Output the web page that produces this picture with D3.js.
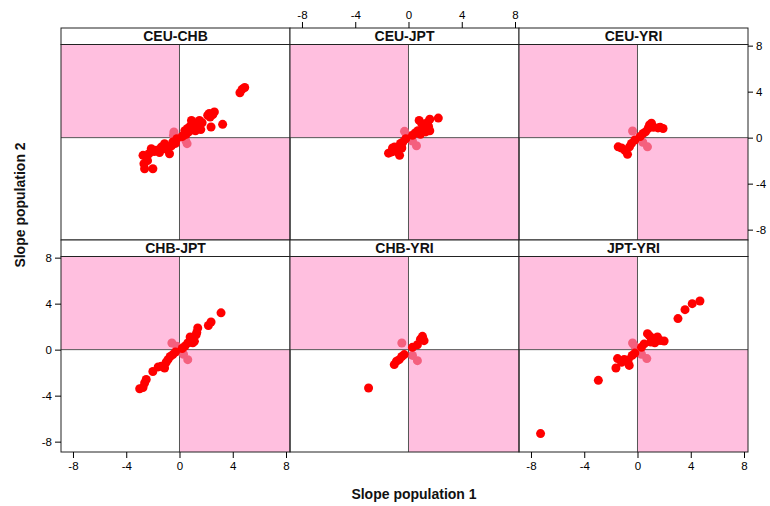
<!DOCTYPE html>
<html>
<head>
<meta charset="utf-8">
<script src="https://cdn.jsdelivr.net/npm/d3@7"></script>
<style>
  body { margin: 0; background: #fff; }
  svg { display: block; }
  text { font-family: "Liberation Sans", Arial, sans-serif; }
</style>
</head>
<body>
<svg id="chart" width="770" height="506"></svg>
<script>
// ---------------- DATA ----------------
const panelNames = ["CEU-CHB", "CEU-JPT", "CEU-YRI", "CHB-JPT", "CHB-YRI", "JPT-YRI"];
const tickValues = [-8, -4, 0, 4, 8];
const xLabel = "Slope population 1";
const yLabel = "Slope population 2";

// concordant slopes [slope pop 1, slope pop 2]
const ceuChb = [[4.9,4.36],[4.7,4.2],[4.54,3.9],[2.24,2.1],[2.62,2.24],[2.12,1.95],[2.5,2.0],[2.3,1.8],
  [2.37,0.93],[3.24,1.16],[1.5,1.5],[1.4,1.2],[1.3,0.9],[1.1,1.3],[0.9,1.5],[1.0,0.8],[0.8,1.0],[1.6,0.7],
  [1.5,1.0],[0.7,0.5],[0.5,0.3],[0.3,0.2],[0.6,0.8],[1.2,0.6],[0.4,0.6],[0.2,0.1],[1.7,1.3],
  [-0.2,-0.1],[-0.5,-0.38],[-0.3,-0.5],[-0.75,-1.4],[-0.87,-0.82],[-1.12,-0.52],[-1.37,-0.82],[-1.74,-1.1],
  [-2.12,-0.96],[-2.5,-1.69],[-2.74,-1.54],[-2.67,-2.27],[-2.62,-2.7],[-2.0,-2.7],[-1.9,-1.2],[-1.0,-1.0],
  [-0.6,-0.7],[-1.5,-1.3],[-2.3,-1.4],[-2.4,-2.0]];
const ceuJpt = [[2.24,1.7],[1.6,1.6],[1.4,1.3],[1.5,1.0],[1.2,0.8],[1.0,1.2],[0.8,1.5],[1.6,0.6],[0.7,0.6],
  [0.5,0.4],[0.3,0.2],[0.9,0.3],[1.3,0.5],[-0.2,-0.1],[-0.42,-0.38],[-0.6,-0.5],[-1.05,-0.82],[-1.3,-1.25],
  [-1.5,-1.35],[-0.67,-1.54],[-0.9,-1.2],[-0.5,-0.9],[-1.2,-0.9]];
const ceuYri = [[1.92,0.8],[1.54,0.85],[1.05,1.25],[0.9,1.1],[0.8,0.8],[0.42,0.37],[0.6,0.5],[1.2,0.9],
  [1.7,0.9],[0.2,0.1],[-0.2,-0.2],[-0.45,-0.5],[-0.95,-1.1],[-0.75,-1.45],[-1.45,-0.8],[-1.2,-0.9],[-0.6,-0.8]];
const chbJpt = [[3.12,3.2],[2.37,2.4],[2.17,2.1],[1.37,1.88],[1.25,1.3],[1.12,0.72],[0.62,0.58],[1.3,1.5],
  [0.9,0.9],[1.0,0.6],[0.4,0.3],[0.2,0.1],[0.8,1.1],[-0.3,-0.2],[-0.5,-0.43],[-0.87,-0.87],[-1.37,-1.45],
  [-1.12,-1.6],[-1.0,-1.1],[-0.7,-0.6],[-2.0,-1.9],[-2.5,-2.6],[-2.62,-2.9],[-2.99,-3.4],[-2.74,-3.3],[-1.6,-1.5]];
const chbYri = [[-3.0,-3.33],[1.05,1.16],[1.17,0.78],[0.67,0.43],[0.9,0.9],[0.3,0.2],[-0.32,-0.43],
  [-0.7,-0.87],[-1.07,-1.3],[-0.9,-1.0],[-0.5,-0.6]];
const jptYri = [[-7.28,-7.3],[-2.94,-2.67],[-1.62,-1.6],[-1.5,-0.78],[-1.0,-0.85],[-0.7,-0.9],[-0.62,-1.37],
  [-0.4,-0.5],[-1.2,-1.1],[-0.2,-0.3],[4.69,4.23],[4.11,4.0],[3.57,3.48],[3.04,2.7],[2.0,0.75],[1.7,0.8],
  [1.5,1.1],[0.75,1.39],[1.0,0.67],[1.2,1.0],[0.9,1.2],[0.5,0.5],[0.3,0.2],[1.3,0.6]];

// discordant slopes (opposite signs)
const ceuChbDisc = [[-0.42,0.5],[-0.45,0.2],[0.57,-0.52],[0.45,-0.2]];
const ceuJptDisc = [[-0.3,0.55],[-0.15,0.25],[0.6,-0.7],[0.3,-0.3]];
const ceuYriDisc = [[-0.37,0.58],[0.75,-0.8],[0.4,-0.4]];
const chbJptDisc = [[-0.57,0.58],[-0.2,0.3],[0.62,-0.87],[0.3,-0.4]];
const chbYriDisc = [[-0.5,0.58],[0.67,-0.96],[0.3,-0.5]];
const jptYriDisc = [[-0.37,0.58],[0.7,-0.78],[0.3,-0.4],[-0.2,0.3]];

const concordant = [ceuChb, ceuJpt, ceuYri, chbJpt, chbYri, jptYri];
const discordant = [ceuChbDisc, ceuJptDisc, ceuYriDisc, chbJptDisc, chbYriDisc, jptYriDisc];

// ---------------- LAYOUT ----------------
const xDomain = [-8.9, 8.3];
const yDomain = [-8.9, 8.1];
const gridLeft = 61, panelW = 229;
const rowTops = [28, 240];
const stripH = 16.5, plotH = 195.5;
const pink = "#FFBFDF";
const fmt = d => String(d);

const svg = d3.select("#chart");
const defs = svg.append("defs");

function styleAxis(g) {
  g.select(".domain").remove();
  g.selectAll(".tick line").attr("stroke", "#000");
  g.selectAll(".tick text").attr("fill", "#000").style("font-size", "11.5px")
    .style("font-family", "'Liberation Sans', Arial, sans-serif");
}

panelNames.forEach((name, i) => {
  const col = i % 3, row = Math.floor(i / 3);
  const left = gridLeft + col * panelW, right = left + panelW;
  const stripTop = rowTops[row];
  const plotTop = stripTop + stripH, plotBottom = plotTop + plotH;

  const x = d3.scaleLinear().domain(xDomain).range([left, right]);
  const y = d3.scaleLinear().domain(yDomain).range([plotBottom, plotTop]);

  const g = svg.append("g");
  defs.append("clipPath").attr("id", "clip" + i)
    .append("rect").attr("x", left).attr("y", plotTop).attr("width", panelW).attr("height", plotH);

  // pink discordant quadrants
  g.append("rect").attr("x", x(xDomain[0])).attr("y", y(yDomain[1]))
    .attr("width", x(0) - x(xDomain[0])).attr("height", y(0) - y(yDomain[1])).attr("fill", pink);
  g.append("rect").attr("x", x(0)).attr("y", y(0))
    .attr("width", x(xDomain[1]) - x(0)).attr("height", y(yDomain[0]) - y(0)).attr("fill", pink);

  // zero lines
  g.append("line").attr("x1", x(0)).attr("x2", x(0)).attr("y1", plotTop).attr("y2", plotBottom)
    .attr("stroke", "#555").attr("stroke-width", 1);
  g.append("line").attr("x1", left).attr("x2", right).attr("y1", y(0)).attr("y2", y(0))
    .attr("stroke", "#555").attr("stroke-width", 1);

  const pts = g.append("g").attr("clip-path", `url(#clip${i})`);
  pts.selectAll("circle.disc").data(discordant[i]).join("circle").attr("class", "disc")
    .attr("cx", d => x(d[0])).attr("cy", d => y(d[1])).attr("r", 4.5)
    .attr("fill", "#F4607E");
  pts.selectAll("circle.conc").data(concordant[i]).join("circle").attr("class", "conc")
    .attr("cx", d => x(d[0])).attr("cy", d => y(d[1])).attr("r", 4.5)
    .attr("fill", "#FF0000");

  // strip
  g.append("rect").attr("x", left).attr("y", stripTop).attr("width", panelW).attr("height", stripH)
    .attr("fill", "#fff").attr("stroke", "#222").attr("stroke-width", 1);
  g.append("text").attr("x", (left + right) / 2).attr("y", stripTop + 13)
    .attr("text-anchor", "middle").style("font-size", "14px").style("font-weight", "bold")
    .attr("fill", "#111").text(name);

  // panel border
  g.append("rect").attr("x", left).attr("y", plotTop).attr("width", panelW).attr("height", plotH)
    .attr("fill", "none").attr("stroke", "#222").attr("stroke-width", 1);

  // axes (lattice alternating)
  if (row === 0 && col === 1) {
    svg.append("g").attr("transform", `translate(0,${stripTop})`)
      .call(d3.axisTop(x).tickValues(tickValues).tickSize(6).tickPadding(3).tickFormat(fmt))
      .call(styleAxis);
  }
  if (row === 0 && col === 2) {
    svg.append("g").attr("transform", `translate(${right},0)`)
      .call(d3.axisRight(y).tickValues(tickValues).tickSize(5).tickPadding(3).tickFormat(fmt))
      .call(styleAxis);
  }
  if (row === 1 && col === 0) {
    svg.append("g").attr("transform", `translate(${left},0)`)
      .call(d3.axisLeft(y).tickValues(tickValues).tickSize(6).tickPadding(3).tickFormat(fmt))
      .call(styleAxis);
  }
  if (row === 1 && (col === 0 || col === 2)) {
    svg.append("g").attr("transform", `translate(0,${plotBottom})`)
      .call(d3.axisBottom(x).tickValues(tickValues).tickSize(6).tickPadding(4).tickFormat(fmt))
      .call(styleAxis);
  }
});

// axis titles
svg.append("text").attr("x", 414).attr("y", 499).attr("text-anchor", "middle")
  .style("font-size", "14px").style("font-weight", "bold").attr("fill", "#111").text(xLabel);
svg.append("text").attr("transform", "translate(25,205) rotate(-90)").attr("text-anchor", "middle")
  .style("font-size", "14px").style("font-weight", "bold").attr("fill", "#111").text(yLabel);
</script>
</body>
</html>
